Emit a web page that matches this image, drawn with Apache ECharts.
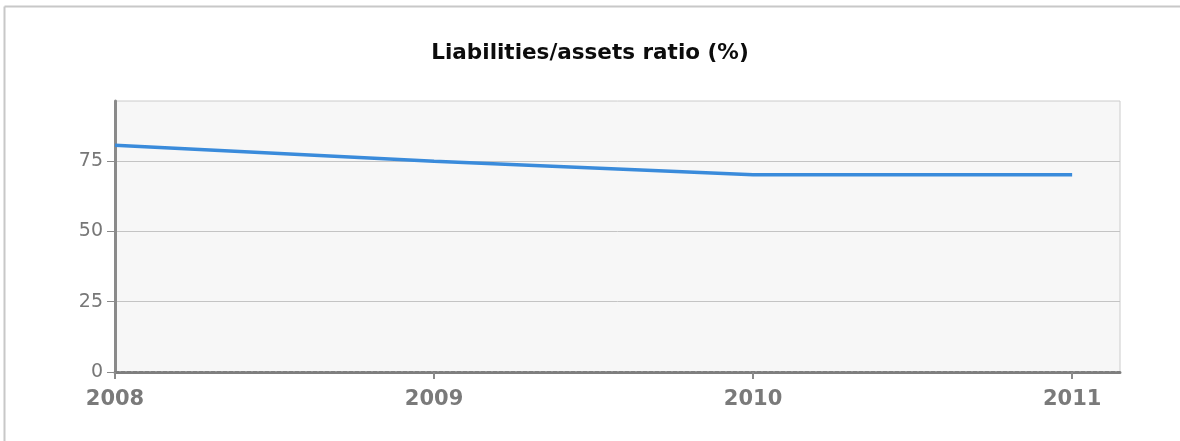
<!DOCTYPE html>
<html>
<head>
<meta charset="utf-8">
<script src="https://cdn.jsdelivr.net/npm/echarts@6/dist/echarts.min.js"></script>
<style>
  html, body { margin: 0; padding: 0; background: #ffffff; }
  #chart { width: 1180px; height: 441px; }
</style>
</head>
<body>
<div id="chart"></div>
<script>
// Liabilities/assets ratio by year
const years = [2008, 2009, 2010, 2011];
const ratioValues = [80.7, 75.0, 70.2, 70.2];
const yTickValues = [0, 25, 50, 75];
const titleText = 'Liabilities/assets ratio (%)';

const chart = echarts.init(document.getElementById('chart'), null, { renderer: 'canvas' });

const option = {
  backgroundColor: '#ffffff',
  animation: false,
  title: {
    text: titleText,
    left: 'center',
    top: 37,
    textStyle: {
      fontFamily: 'DejaVu Sans, Verdana, sans-serif',
      fontWeight: 'bold',
      fontSize: 21.5,
      color: '#0c0c0c'
    }
  },
  graphic: [
    // outer frame (top and left edges)
    { type: 'line', silent: true, shape: { x1: 4.5, y1: 6.5, x2: 1180, y2: 6.5 }, style: { stroke: '#c8c8c8', lineWidth: 2 } },
    { type: 'line', silent: true, shape: { x1: 4.5, y1: 6.5, x2: 4.5, y2: 441 }, style: { stroke: '#c8c8c8', lineWidth: 2 } }
  ],
  grid: {
    left: 115,
    top: 101,
    right: 60,
    bottom: 69,
    show: true,
    backgroundColor: '#f7f7f7',
    borderColor: '#cccccc',
    borderWidth: 1,
    containLabel: false
  },
  xAxis: {
    type: 'value',
    min: 2008,
    max: 2011.15,
    interval: 1,
    axisLine: { show: true, lineStyle: { color: '#7e7e7e', width: 3, type: [4, 2] } },
    axisTick: { show: true, length: 7, lineStyle: { color: '#8a8a8a', width: 2 }, customValues: years },
    splitLine: { show: false },
    axisLabel: {
      customValues: years,
      margin: 17,
      color: '#7a7a7a',
      fontFamily: 'DejaVu Sans, Verdana, sans-serif',
      fontWeight: 'bold',
      fontSize: 21,
      formatter: v => String(v)
    }
  },
  yAxis: {
    type: 'value',
    min: 0,
    max: 96.4,
    interval: 25,
    axisLine: { show: true, lineStyle: { color: '#8a8a8a', width: 3 } },
    axisTick: { show: true, length: 8, lineStyle: { color: '#8a8a8a', width: 1 }, customValues: yTickValues },
    splitLine: { show: true, lineStyle: { color: '#c4c4c4', width: 1 } },
    axisLabel: {
      customValues: yTickValues,
      margin: 12,
      color: '#777777',
      fontFamily: 'DejaVu Sans, Verdana, sans-serif',
      fontSize: 19,
      formatter: v => String(v)
    }
  },
  series: [{
    type: 'line',
    data: years.map((y, i) => [y, ratioValues[i]]),
    showSymbol: false,
    smooth: false,
    lineStyle: { color: '#3a8bdb', width: 3.5 },
    itemStyle: { color: '#3a8bdb' }
  }]
};

chart.setOption(option);
</script>
</body>
</html>
